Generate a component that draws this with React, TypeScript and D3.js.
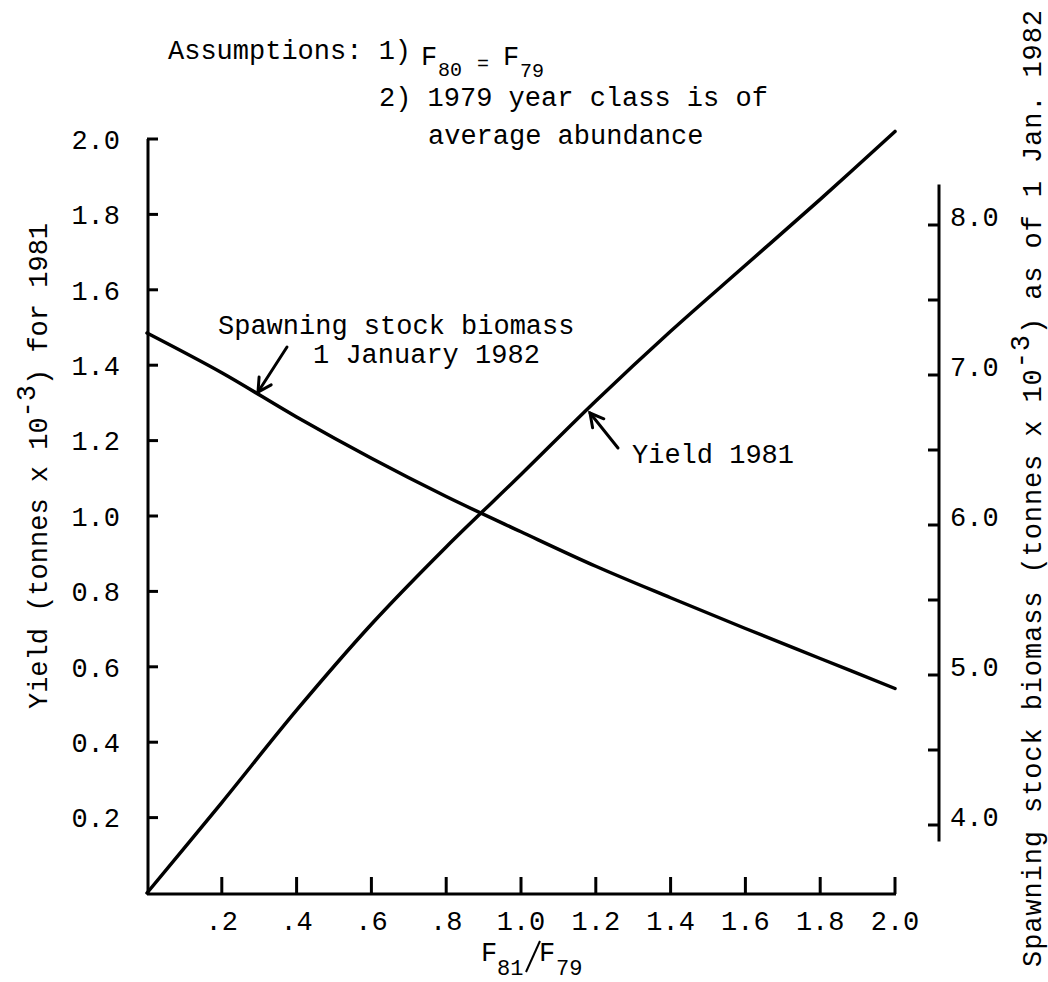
import React from 'react';
import * as d3 from 'd3';

// F81/F79 ratio
const fRatio = [0, 0.2, 0.4, 0.6, 0.8, 1.0, 1.2, 1.4, 1.6, 1.8, 2.0];
// Yield 1981 (tonnes x 10^-3), left axis
const yield1981 = [0, 0.24, 0.485, 0.713, 0.918, 1.11, 1.305, 1.49, 1.665, 1.84, 2.02];
// Spawning stock biomass 1 Jan 1982 (tonnes x 10^-3), right axis
const ssb1982 = [7.28, 7.015, 6.72, 6.445, 6.19, 5.955, 5.725, 5.515, 5.31, 5.11, 4.91];

const xTicks = [0.2, 0.4, 0.6, 0.8, 1.0, 1.2, 1.4, 1.6, 1.8, 2.0];
const xTickLabels = ['.2', '.4', '.6', '.8', '1.0', '1.2', '1.4', '1.6', '1.8', '2.0'];
const leftTicks = [0.2, 0.4, 0.6, 0.8, 1.0, 1.2, 1.4, 1.6, 1.8, 2.0];
const leftTickLabels = ['0.2', '0.4', '0.6', '0.8', '1.0', '1.2', '1.4', '1.6', '1.8', '2.0'];
const rightTicks = [4.0, 4.5, 5.0, 5.5, 6.0, 6.5, 7.0, 7.5, 8.0];
const rightLabeled = [4.0, 5.0, 6.0, 7.0, 8.0];
const rightTickLabels = ['4.0', '5.0', '6.0', '7.0', '8.0'];

const FONT = "'Liberation Mono', 'DejaVu Sans Mono', monospace";
const FS = 27;

function Arrow({ x1, y1, x2, y2 }: { x1: number; y1: number; x2: number; y2: number }) {
  const ang = Math.atan2(y2 - y1, x2 - x1);
  const L = 15;
  const a = 0.5;
  const p1 = [x2 - L * Math.cos(ang - a), y2 - L * Math.sin(ang - a)];
  const p2 = [x2 - L * Math.cos(ang + a), y2 - L * Math.sin(ang + a)];
  return (
    <g stroke="#000" strokeWidth={3} fill="none" strokeLinecap="round">
      <line x1={x1} y1={y1} x2={x2} y2={y2} />
      <polyline points={`${p1[0]},${p1[1]} ${x2},${y2} ${p2[0]},${p2[1]}`} />
    </g>
  );
}

export default function App() {
  const W = 1048;
  const H = 982;
  const x = d3.scaleLinear().domain([0, 2]).range([147, 895]);
  const yL = d3.scaleLinear().domain([0, 2]).range([893, 139]);
  const yR = d3.scaleLinear().domain([4, 8]).range([825, 225]);

  const line = d3.line<[number, number]>().curve(d3.curveCatmullRom.alpha(0.5));
  const yieldPath = line(fRatio.map((f, i) => [x(f), yL(yield1981[i])] as [number, number])) || '';
  const ssbPath = line(fRatio.map((f, i) => [x(f), yR(ssb1982[i])] as [number, number])) || '';

  const x0 = x(0);
  const y0 = yL(0);
  const rx = 939;

  return (
    <svg
      width={W}
      height={H}
      viewBox={`0 0 ${W} ${H}`}
      style={{ position: 'absolute', left: 0, top: 0, background: '#fff' }}
      fontFamily={FONT}
      fontSize={FS}
    >
      <rect x={0} y={0} width={W} height={H} fill="#fff" />

      {/* Left axis */}
      <line x1={x0 + 1} y1={yL(2)} x2={x0 + 1} y2={y0 + 1} stroke="#000" strokeWidth={3} />
      {leftTicks.map((t, i) => (
        <g key={'lt' + i}>
          <line x1={x0} y1={yL(t)} x2={x0 + 11} y2={yL(t)} stroke="#000" strokeWidth={3} />
          <text x={120} y={yL(t)} dy="0.36em" textAnchor="end">{leftTickLabels[i]}</text>
        </g>
      ))}

      {/* Bottom axis */}
      <line x1={x0} y1={y0 + 1} x2={x(2) + 1} y2={y0 + 1} stroke="#000" strokeWidth={3} />
      {xTicks.map((t, i) => (
        <g key={'xt' + i}>
          <line x1={x(t)} y1={y0 + 1} x2={x(t)} y2={y0 - 16} stroke="#000" strokeWidth={3} />
          <text x={x(t)} y={930} textAnchor="middle">{xTickLabels[i]}</text>
        </g>
      ))}

      {/* Right axis */}
      <line x1={rx} y1={yR(8.27)} x2={rx} y2={yR(3.89)} stroke="#000" strokeWidth={3} />
      {rightTicks.map((t, i) => (
        <line key={'rt' + i} x1={rx - 11} y1={yR(t)} x2={rx} y2={yR(t)} stroke="#000" strokeWidth={3} />
      ))}
      {rightLabeled.map((t, i) => (
        <text key={'rl' + i} x={950} y={yR(t) + 1}>{rightTickLabels[i]}</text>
      ))}

      {/* Curves */}
      <path d={yieldPath} fill="none" stroke="#000" strokeWidth={3.5} strokeLinecap="round" />
      <path d={ssbPath} fill="none" stroke="#000" strokeWidth={3.5} strokeLinecap="round" />

      {/* Title / assumptions */}
      <text x={168} y={59}>Assumptions: 1)</text>
      <text x={421} y={65}>F</text>
      <text x={438} y={76} fontSize={20}>80</text>
      <text x={477} y={70} fontSize={20}>=</text>
      <text x={503} y={65}>F</text>
      <text x={520} y={77} fontSize={20}>79</text>
      <text x={379} y={106}>2) 1979 year class is of</text>
      <text x={428} y={144}>average abundance</text>

      {/* Annotations */}
      <text x={218} y={334}>Spawning stock biomass</text>
      <text x={313} y={363}>1 January 1982</text>
      <Arrow x1={287} y1={347} x2={258} y2={392} />

      <text x={632} y={463}>Yield 1981</text>
      <Arrow x1={618} y1={448} x2={590} y2={413} />

      {/* X label */}
      <text x={481} y={961}>F</text>
      <text x={497} y={975} fontSize={22}>81</text>
      <line x1={526} y1={972} x2={540} y2={941} stroke="#000" strokeWidth={2} />
      <text x={539} y={961}>F</text>
      <text x={556} y={975} fontSize={22}>79</text>

      {/* Left axis title */}
      <text transform="translate(47,466) rotate(-90)" textAnchor="middle">
        Yield (tonnes x 10<tspan dy={-12}>-3</tspan><tspan dy={12}>) for 1981</tspan>
      </text>

      {/* Right axis title */}
      <text transform="translate(1041,488) rotate(-90)" textAnchor="middle" letterSpacing={0.9}>
        Spawning stock biomass (tonnes x 10<tspan dy={-12}>-3</tspan>
        <tspan dy={12}>) as of 1 Jan. 1982</tspan>
      </text>
    </svg>
  );
}
